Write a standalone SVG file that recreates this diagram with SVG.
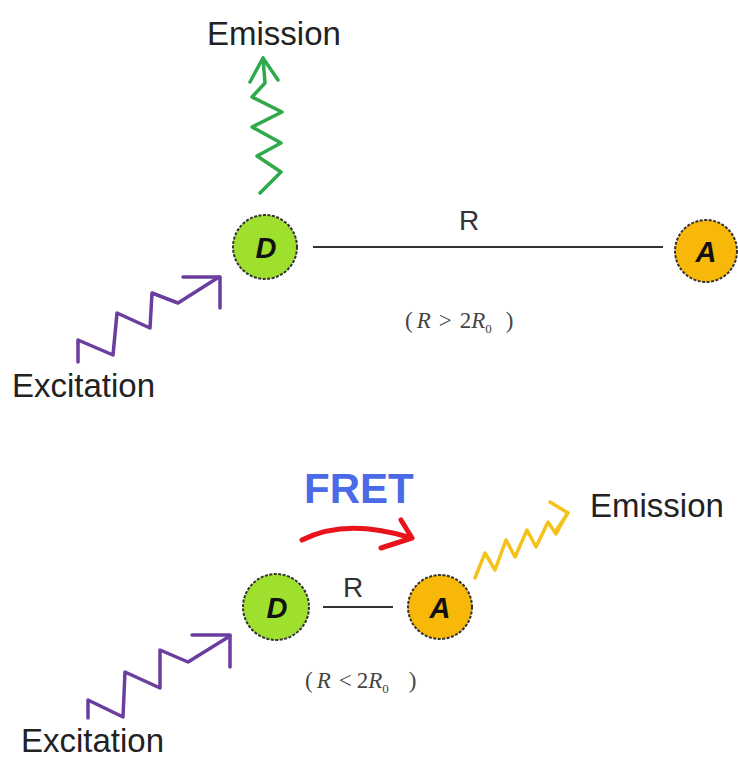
<svg xmlns="http://www.w3.org/2000/svg" width="738" height="758" viewBox="0 0 738 758">
<style>
.lbl{font-family:"Liberation Sans",Arial,sans-serif;font-size:33px;fill:#222}
.rl{font-family:"Liberation Sans",Arial,sans-serif;font-size:28px;fill:#333}
.node{stroke:#333;stroke-width:2;stroke-dasharray:3 1.5}
.d{fill:#9fe02e}
.a{fill:#f7b80a}
.nl{font-family:"Liberation Sans",Arial,sans-serif;font-size:29px;font-weight:bold;font-style:italic;fill:#111;text-anchor:middle}
.eq{font-family:"Liberation Serif","Times New Roman",serif;font-size:23px;font-style:italic;fill:#444}
.up{font-style:normal}
.wave{fill:none;stroke-width:3.5;stroke-linejoin:round;stroke-linecap:round}
.conn{stroke:#333;stroke-width:2}
</style>
<rect width="738" height="758" fill="#fff"/>
<g id="labels">
<text class="lbl" x="207" y="45">Emission</text>
<text class="lbl" x="12" y="397">Excitation</text>
<text class="lbl" x="590" y="517">Emission</text>
<text class="lbl" x="21" y="752">Excitation</text>
<text x="304" y="503" style="font-family:'Liberation Sans',Arial,sans-serif;font-size:42px;font-weight:bold;fill:#4a6ae8">FRET</text>
<text class="rl" x="469" y="230" text-anchor="middle">R</text>
<text class="rl" x="353" y="597" text-anchor="middle">R</text>
<text class="eq" x="405" y="328"><tspan class="up">(</tspan><tspan dx="4">R</tspan><tspan class="up" dx="8">&gt;</tspan><tspan class="up" dx="8">2</tspan><tspan>R</tspan><tspan class="up" dy="5" font-size="13">0</tspan><tspan class="up" dx="14" dy="-5">)</tspan></text>
<text class="eq" x="305" y="688"><tspan class="up">(</tspan><tspan dx="4">R</tspan><tspan class="up" dx="8">&lt;</tspan><tspan class="up" dx="5">2</tspan><tspan>R</tspan><tspan class="up" dy="5" font-size="13">0</tspan><tspan class="up" dx="20" dy="-5">)</tspan></text>
</g>
<g id="connectors">
<line class="conn" x1="313" y1="247" x2="663" y2="247"/>
<line class="conn" x1="323" y1="607" x2="393" y2="607"/>
<polyline class="wave" stroke="#2eaa4a" points="260,193 281,172 257,156 281,143 252,127 282,112 252,97 265,83 263,58"/>
<polyline class="wave" stroke="#2eaa4a" points="250,82 263,58 278,80"/>
<polyline class="wave" stroke="#6a3d9e" points="78,362 78,340 113,355 117,313 150,328 152,293 178,303 219,277"/>
<polyline class="wave" stroke="#6a3d9e" points="183,277 220,277 220,308"/>
<polyline class="wave" stroke="#6a3d9e" points="88,718 88,700 123,717 125,672 160,688 160,650 188,662 230,636"/>
<polyline class="wave" stroke="#6a3d9e" points="192,635 230,635 230,667"/>
<polyline class="wave" stroke="#f5c21a" stroke-width="4" points="475,578 485,553 495,570 506,540 515,557 527,530 536,547 548,522 556,534 567,514"/>
<polyline class="wave" stroke="#f5c21a" stroke-width="4" points="550,502 568,513 555,532"/>
<path d="M302,540 Q345,518 408,537" fill="none" stroke="#e8141c" stroke-width="5" stroke-linecap="round"/>
<polyline points="401,520 412,538 381,548" fill="none" stroke="#e8141c" stroke-width="5" stroke-linecap="round" stroke-linejoin="round"/>
</g>
<g id="D1"><circle class="node d" cx="265" cy="247" r="32"/><text class="nl" x="266" y="258">D</text></g>
<g id="A1"><circle class="node a" cx="706" cy="251" r="31"/><text class="nl" x="706" y="262">A</text></g>
<g id="D2"><circle class="node d" cx="276" cy="607" r="33"/><text class="nl" x="277" y="618">D</text></g>
<g id="A2"><circle class="node a" cx="440" cy="607" r="32"/><text class="nl" x="440" y="618">A</text></g>
</svg>
